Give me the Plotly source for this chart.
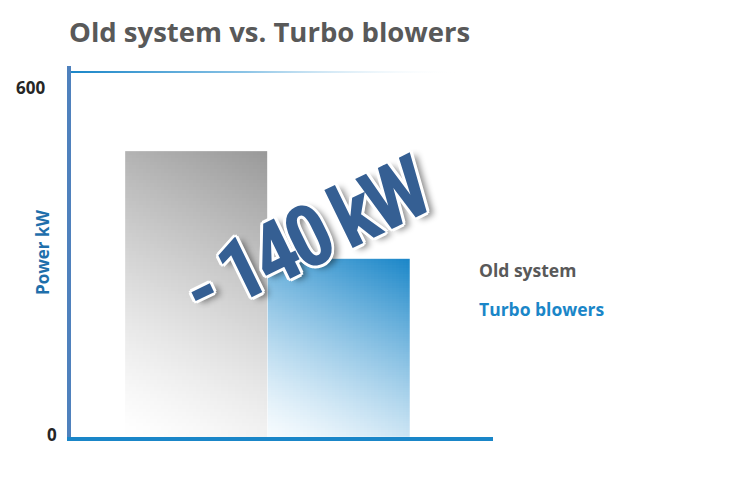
import numpy as np
import plotly.graph_objects as go

# Données
categories = ["Old system", "Turbo blowers"]
power_kw = [470, 293]
bar_colors = [["#ffffff", "#999999"], ["#f6fbfe", "#1a86c8"]]
legend_colors = ["#595959", "#1a86c8"]
tick_values = [0, 600]
tick_labels = ["0", "600"]
saving_label = "- 140 kW"

# La page ajoute une marge de 8 px autour de la figure : tout est donné en pixels de page
OFF = 8
W, H = 730 - 2 * OFF, 490 - 2 * OFF
left, right, top, bottom = 71 - OFF, 493 - OFF, 66 - OFF, 437 - OFF
x_range = [-0.88, 2.08]
y_range = [0, 610]
px_per_kw = (bottom - top) / (y_range[1] - y_range[0])
px_per_x = (right - left) / (x_range[1] - x_range[0])


def paper_x(px):
    return (px - OFF - left) / (right - left)


def paper_y(py):
    return (bottom - (py - OFF)) / (bottom - top)


fig = go.Figure()

# Barres dégradées en diagonale (heatmap fine sur chaque barre)
nx, ny = 40, 80
for i, (value, colors) in enumerate(zip(power_kw, bar_colors)):
    xe = np.linspace(i - 0.5, i + 0.496, nx + 1)
    ye = np.linspace(0, value, ny + 1)
    u = (np.arange(nx) + 0.5) / nx
    v = (np.arange(ny) + 0.5) / ny
    bw = 0.5 * px_per_x
    bh = value * px_per_kw
    t = ((u[None, :] * bw + v[:, None] * bh) / (bw + bh)) ** 1.3
    fig.add_trace(go.Heatmap(x=xe, y=ye, z=t, zmin=0, zmax=1,
                             colorscale=[[0, colors[0]], [1, colors[1]]],
                             showscale=False, hoverinfo="skip", name=categories[i]))

# Ligne supérieure en dégradé au niveau de 600
top_tick = tick_values[-1]
half = 1.7
fig.add_trace(go.Scatter(x=[x_range[0], 1.85, 1.85, x_range[0], x_range[0]],
                         y=[top_tick - half, top_tick - half, top_tick + half, top_tick + half, top_tick - half],
                         mode="none", fill="toself",
                         fillgradient=dict(type="horizontal",
                                           colorscale=[[0, "#1a86c8"], [0.45, "#8cc4e6"], [1, "rgba(255,255,255,0)"]]),
                         hoverinfo="skip", showlegend=False))

fig.update_xaxes(range=x_range, showline=True, linecolor="#1a86c8", linewidth=4,
                 showgrid=False, zeroline=False, showticklabels=False, ticks="")
fig.update_yaxes(range=y_range, showline=True, linecolor="#4f81bd", linewidth=4,
                 showgrid=False, zeroline=False, showticklabels=False, ticks="")

annotations = []
# Étiquettes de graduation
for lab, px, py in zip(tick_labels, [52, 30], [434, 87]):
    annotations.append(dict(x=paper_x(px), y=paper_y(py), xref="paper", yref="paper",
                            text=lab, showarrow=False, xanchor="center", yanchor="middle",
                            font=dict(family="Open Sans", size=17, color="#262626", weight="bold")))
# Titre de l'axe
annotations.append(dict(x=paper_x(42), y=paper_y(253), xref="paper", yref="paper", text="Power kW",
                        textangle=-90, showarrow=False, xanchor="center", yanchor="middle",
                        font=dict(family="Open Sans", size=17, color="#1f6fab", weight="bold")))
# Légende textuelle
for lab, col, py in zip(categories, legend_colors, [270, 309]):
    annotations.append(dict(x=paper_x(477), y=paper_y(py), xref="paper", yref="paper", text=lab,
                            showarrow=False, xanchor="left", yanchor="middle",
                            font=dict(family="Open Sans", size=17.5, color=col, weight="bold")))
# Économie réalisée
outline = ", ".join(f"{dx}px {dy}px 0 #ffffff" for dx, dy in
                    [(3, 0), (-3, 0), (0, 3), (0, -3), (2, 2), (-2, -2), (2, -2), (-2, 2)])
annotations.append(dict(x=paper_x(305), y=paper_y(238), xref="paper", yref="paper",
                        text=f'<span style="letter-spacing:-6px">{saving_label}</span>',
                        textangle=-26, showarrow=False, xanchor="center", yanchor="middle",
                        font=dict(family="Roboto Condensed, Liberation Sans Narrow, Arial Narrow, DejaVu Sans Condensed, sans-serif",
                                  size=86, color="#355f93", weight="bold",
                                  shadow=outline + ", 5px 5px 6px rgba(0,0,0,0.45)")))

fig.update_layout(width=W, height=H, plot_bgcolor="white", paper_bgcolor="white",
                  margin=dict(l=left, r=W - right, t=top, b=H - bottom),
                  showlegend=False, annotations=annotations,
                  title=dict(text="Old system vs. Turbo blowers", xref="container", yref="container",
                             x=(69 - OFF) / W, y=1 - (32 - OFF) / H, xanchor="left", yanchor="middle",
                             font=dict(family="Open Sans", size=27.5, color="#595959", weight="bold")))

fig.write_html("out.html", config={"displayModeBar": False})
